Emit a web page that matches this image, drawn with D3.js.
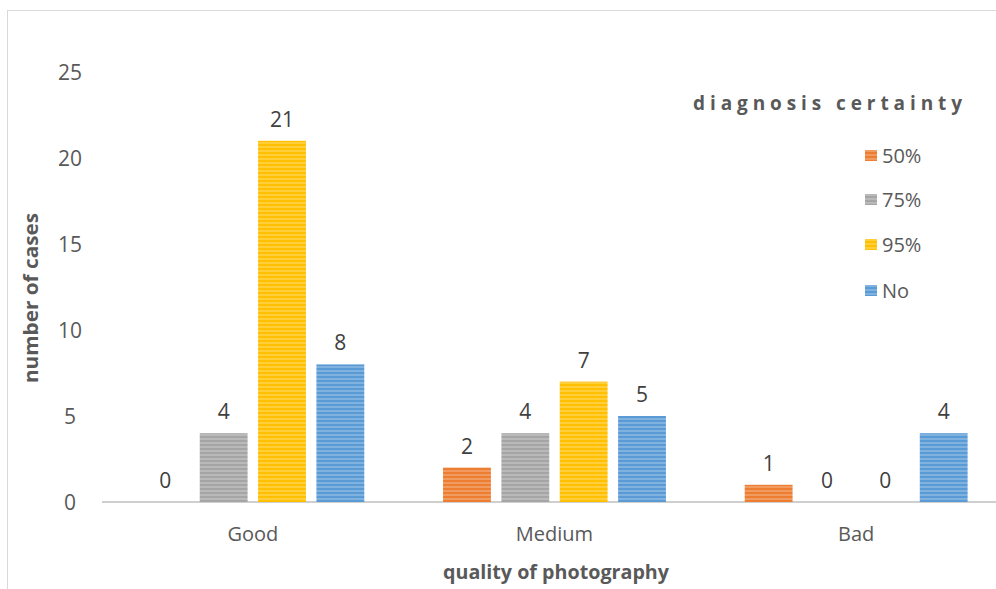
<!DOCTYPE html>
<html>
<head>
<meta charset="utf-8">
<script src="https://cdn.jsdelivr.net/npm/d3@7"></script>
<style>
  body { margin: 0; background: #fff; }
  text { font-family: "Open Sans", Lato, sans-serif; }
</style>
</head>
<body>
<div id="chart"></div>
<script>
// chart data
const categories = ["Good", "Medium", "Bad"];
const seriesNames = ["50%", "75%", "95%", "No"];
const values50 = [0, 2, 1];
const values75 = [4, 4, 0];
const values95 = [21, 7, 0];
const valuesNo = [8, 5, 4];
const yTicks = [0, 5, 10, 15, 20, 25];

const colors = ["#ED7D31", "#A5A5A5", "#FFC000", "#5B9BD5"];
const allValues = [values50, values75, values95, valuesNo];

const width = 996;
const height = 589;

const svg = d3.select("#chart")
  .append("svg")
  .attr("width", width)
  .attr("height", height);

// striped fills like the original
const defs = svg.append("defs");
colors.forEach((c, i) => {
  const p = defs.append("pattern")
    .attr("id", "stripe" + i)
    .attr("patternUnits", "userSpaceOnUse")
    .attr("width", 8)
    .attr("height", 4);
  p.append("rect").attr("width", 8).attr("height", 4).attr("fill", c);
  p.append("rect").attr("y", 2.5).attr("width", 8).attr("height", 1)
    .attr("fill", "#fff").attr("opacity", 0.45);
});

// outer frame
svg.append("rect")
  .attr("x", 7.5).attr("y", 10.5)
  .attr("width", 1000).attr("height", 600)
  .attr("fill", "none")
  .attr("stroke", "#d9d9d9");

// scales
const yScale = d3.scaleLinear().domain([0, 25]).range([502, 72]);
const xScale = d3.scaleBand().domain(categories).range([102, 1007]);
const xInner = d3.scaleBand().domain(seriesNames)
  .range([0, xScale.bandwidth()])
  .paddingInner(0.18).paddingOuter(0.675);

// y tick labels
svg.append("g").selectAll("text")
  .data(yTicks).enter().append("text")
  .attr("x", 70)
  .attr("y", d => yScale(d))
  .attr("dy", "0.36em")
  .attr("text-anchor", "middle")
  .attr("font-size", 21)
  .attr("fill", "#595959")
  .text(d => d);

// x axis line
svg.append("line")
  .attr("x1", xScale.range()[0]).attr("x2", xScale.range()[1])
  .attr("y1", yScale(0)).attr("y2", yScale(0))
  .attr("stroke", "#bfbfbf").attr("stroke-width", 1.5);

// category labels
svg.append("g").selectAll("text")
  .data(categories).enter().append("text")
  .attr("x", d => xScale(d) + xScale.bandwidth() / 2)
  .attr("y", 541)
  .attr("text-anchor", "middle")
  .attr("font-size", 20)
  .attr("fill", "#595959")
  .text(d => d);

// bars + value labels
const rows = [];
categories.forEach((cat, ci) => {
  seriesNames.forEach((s, si) => {
    rows.push({cat: cat, series: s, si: si, value: allValues[si][ci]});
  });
});

svg.append("g").selectAll("rect")
  .data(rows.filter(d => d.value > 0)).enter().append("rect")
  .attr("x", d => xScale(d.cat) + xInner(d.series))
  .attr("y", d => yScale(d.value))
  .attr("width", xInner.bandwidth())
  .attr("height", d => yScale(0) - yScale(d.value))
  .attr("fill", d => "url(#stripe" + d.si + ")");

svg.append("g").selectAll("text")
  .data(rows).enter().append("text")
  .attr("x", d => xScale(d.cat) + xInner(d.series) + xInner.bandwidth() / 2)
  .attr("y", d => yScale(d.value) - 14)
  .attr("text-anchor", "middle")
  .attr("font-size", 21)
  .attr("fill", "#404040")
  .text(d => d.value);

// axis titles
svg.append("text")
  .attr("transform", "translate(38,298) rotate(-90)")
  .attr("text-anchor", "middle")
  .attr("font-size", 19)
  .attr("font-weight", "bold")
  .attr("fill", "#595959")
  .attr("textLength", 170)
  .attr("lengthAdjust", "spacingAndGlyphs")
  .text("number of cases");

svg.append("text")
  .attr("x", 556).attr("y", 579)
  .attr("text-anchor", "middle")
  .attr("font-size", 19)
  .attr("font-weight", "bold")
  .attr("fill", "#595959")
  .attr("textLength", 226)
  .attr("lengthAdjust", "spacingAndGlyphs")
  .text("quality of photography");

// legend
svg.append("text")
  .attr("x", 693).attr("y", 110)
  .attr("font-size", 19)
  .attr("font-weight", "bold")
  .attr("fill", "#595959")
  .attr("textLength", 269)
  .attr("lengthAdjust", "spacing")
  .text("diagnosis  certainty");

const legendY = [156, 200, 245, 291];
const legend = svg.append("g").selectAll("g")
  .data(seriesNames).enter().append("g")
  .attr("transform", (d, i) => `translate(865,${legendY[i]})`);

legend.append("rect")
  .attr("x", 0).attr("y", -6)
  .attr("width", 12).attr("height", 11)
  .attr("fill", (d, i) => "url(#stripe" + i + ")");

legend.append("text")
  .attr("x", 17).attr("dy", "0.36em")
  .attr("font-size", 20)
  .attr("fill", "#595959")
  .text(d => d);
</script>
</body>
</html>
